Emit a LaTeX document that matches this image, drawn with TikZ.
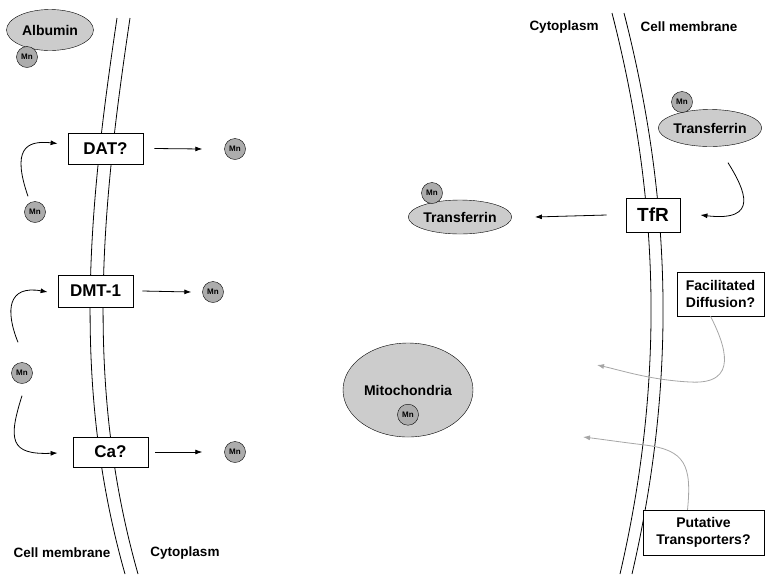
\documentclass[tikz,border=0pt]{standalone}
\usepackage{fontspec}
\setmainfont{Liberation Sans}
\usepackage{tikz}
\usetikzlibrary{arrows.meta,positioning,shapes.geometric}

\begin{document}
\begin{tikzpicture}[
  x=1pt, y=-1pt,
  font=\bfseries,
  gate/.style={draw, thick, fill=white, minimum width=75pt, minimum height=31pt,
               inner sep=0pt, font=\fontsize{17}{18}\selectfont\bfseries},
  side/.style={draw, fill=white, inner sep=0pt, align=center,
               font=\fontsize{14}{17}\selectfont\bfseries},
  prot/.style={draw, ellipse, fill=gray!40, inner sep=0pt,
               font=\fontsize{14}{16}\selectfont\bfseries},
  mn/.style={draw, circle, fill=gray!65, minimum size=21pt, inner sep=0pt,
             font=\fontsize{8}{9}\selectfont\bfseries},
  lbl/.style={font=\fontsize{13.5}{16}\selectfont\bfseries},
  arr/.style={-{Latex[length=7pt,width=5pt]}, line width=0.8pt},
  grr/.style={arr, draw=gray!70}
]
\useasboundingbox (0,0) rectangle (765,574);

% membranes
\foreach \d in {0,13}
  \draw[line width=0.8pt] (117+\d,18) .. controls (90+\d,200) and (70+\d,380) .. (125+\d,574);
\foreach \d in {0,12}
  \draw[line width=0.8pt] (612+\d,13) .. controls (660+\d,200) and (665+\d,380) .. (620+\d,574);

% left side
\node[prot, minimum width=87pt, minimum height=41pt] (alb) at (50,30) {Albumin};
\node[mn] (mnalb) at (27,57) {Mn};

\node[gate] (dat) at (105.5,148.5) {DAT?};
\node[gate, minimum height=32pt] (dmt) at (95.5,291) {DMT-1};
\node[gate, minimum height=30pt] (ca) at (110.5,452) {Ca?};

\node[mn] (mna) at (35,212) {Mn};
\node[mn] (mnb) at (22,373) {Mn};
\node[mn] (mndat) at (235,149) {Mn};
\node[mn] (mndmt) at (213,292) {Mn};
\node[mn] (mnca) at (235,452) {Mn};

\draw[arr] ([shift={(-7,-5)}]mna.north) .. controls (12,150) and (25,140) .. ([shift={(-10,-5)}]dat.west);
\draw[arr] ([shift={(-4,-20)}]mnb.north) .. controls (5,310) and (8,285) .. ([shift={(-10,1)}]dmt.west);
\draw[arr] ([shift={(0,12)}]mnb.south) .. controls (8,440) and (10,455) .. ([shift={(-15,1)}]ca.west);

\draw[arr] ([xshift=11pt]dat.east) -- ([xshift=-22pt]mndat.west);
\draw[arr] ([xshift=9pt]dmt.east) -- ([xshift=-11pt]mndmt.west);
\draw[arr] ([xshift=7pt]ca.east) -- ([xshift=-22pt]mnca.west);

\node[lbl] (cm1) at (62,553) {Cell membrane};
\node[lbl] (cy1) at (185,553) {Cytoplasm};

% right side
\node[lbl] (cy2) at (564,27) {Cytoplasm};
\node[lbl] (cm2) at (689,27) {Cell membrane};

\node[prot, minimum width=85pt, minimum height=37pt] (tf) at (710,128) {Transferrin};
\node[mn] (mntf) at (682,102) {Mn};
\node[gate, minimum width=54pt, minimum height=34pt, font=\fontsize{19}{20}\selectfont\bfseries] (tfr) at (653,215) {TfR};
\node[prot, minimum width=87pt, minimum height=34pt] (tf2) at (460,217) {Transferrin};
\node[mn] (mntf2) at (432,193) {Mn};

\draw[arr] ([shift={(18,16)}]tf.south) .. controls (745,190) and (760,222) .. ([xshift=20pt]tfr.east);
\draw[arr] ([xshift=-19pt]tfr.west) -- ([xshift=23pt]tf2.east);

\node[prot, minimum width=130pt, minimum height=94pt] (mito) at (408,390) {Mitochondria};
\node[mn, below=14pt of mito.center] (mnmito) {Mn};

\node[side, minimum width=87pt, minimum height=44pt] (fd) at (720.5,294) {Facilitated\\Diffusion?};
\node[side, minimum width=121pt, minimum height=45pt] (pt) at (703.5,532.5) {Putative\\Transporters?};
\coordinate (fdend) at (597,365);
\coordinate (ptend) at (583,437);

\draw[grr] ([xshift=-10pt]fd.south) .. controls (725,345) and (740,385) .. (690,382)
  .. controls (650,380) and (620,370) .. (fdend);
\draw[grr] ([xshift=-16pt]pt.north) .. controls (692,465) and (685,450) .. (645,445)
  .. controls (620,442) and (600,439) .. (ptend);
\end{tikzpicture}
\end{document}
